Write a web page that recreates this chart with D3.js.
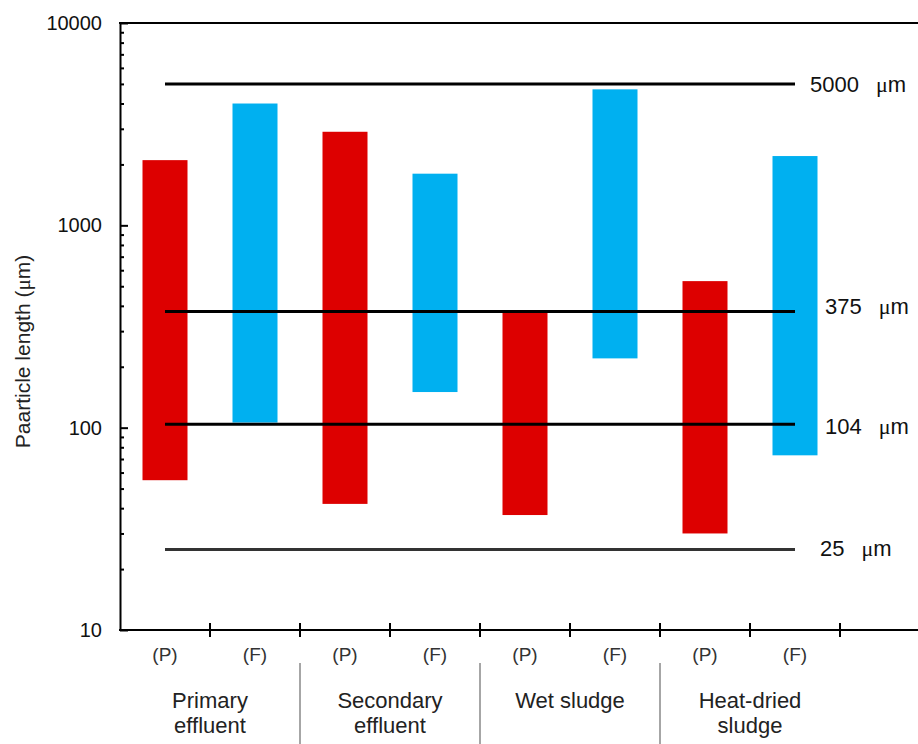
<!DOCTYPE html>
<html>
<head>
<meta charset="utf-8">
<script src="https://cdn.jsdelivr.net/npm/d3@7"></script>
<style>
  html, body { margin: 0; padding: 0; background: #fff; }
  svg { display: block; font-family: "Liberation Sans", Arial, sans-serif; }
</style>
</head>
<body>
<svg id="chart" width="918" height="744"></svg>
<script>
// Particle length ranges for each sample (P = particles, F = fibres)
const categories = ["PE-P", "PE-F", "SE-P", "SE-F", "WS-P", "WS-F", "HD-P", "HD-F"];
const sampleLabels = ["(P)", "(F)", "(P)", "(F)", "(P)", "(F)", "(P)", "(F)"];
const sampleType = ["P", "F", "P", "F", "P", "F", "P", "F"];
const minLength = [55, 106, 42, 150, 37, 220, 30, 73];
const maxLength = [2100, 4000, 2900, 1800, 375, 4700, 530, 2200];

const groupLines = [["Primary", "effluent"], ["Secondary", "effluent"], ["Wet sludge"], ["Heat-dried", "sludge"]];

// Reference sieve sizes
const refSizes = [5000, 375, 104, 25];
const refLabels = ["5000", "375", "104", "25"];

const yTicks = [10, 100, 1000, 10000];

// Layout
const plotLeft = 120, plotRight = 918, plotTop = 23, plotBottom = 630;
const bandEnd = 840;
const colors = { P: "#DD0000", F: "#00B0F0" };
const refColors = ["#000", "#000", "#000", "#333"];
const refLabelX = [810, 825, 825, 820];
const refLabelDy = [0, -5, 2, -1];

const svg = d3.select("#chart");

const y = d3.scaleLog().domain([10, 10000]).range([plotBottom, plotTop]);
const x = d3.scaleBand().domain(categories).range([plotLeft, bandEnd])
  .paddingInner(0.5).paddingOuter(0.25);
const step = x.step();

// Bars: floating ranges from min to max length
svg.append("g").selectAll("rect")
  .data(categories)
  .join("rect")
  .attr("x", d => x(d))
  .attr("width", x.bandwidth())
  .attr("y", (d, i) => y(maxLength[i]))
  .attr("height", (d, i) => y(minLength[i]) - y(maxLength[i]))
  .attr("fill", (d, i) => colors[sampleType[i]]);

// Reference lines
const cx0 = x(categories[0]) + x.bandwidth() / 2;
const cx1 = x(categories[categories.length - 1]) + x.bandwidth() / 2;
const refG = svg.append("g");
refG.selectAll("line")
  .data(refSizes)
  .join("line")
  .attr("x1", cx0).attr("x2", cx1)
  .attr("y1", d => y(d)).attr("y2", d => y(d))
  .attr("stroke", (d, i) => refColors[i])
  .attr("stroke-width", 3);

const refText = refG.selectAll("text")
  .data(refSizes)
  .join("text")
  .attr("x", (d, i) => refLabelX[i])
  .attr("y", (d, i) => y(d) + refLabelDy[i])
  .attr("dy", "0.35em")
  .attr("font-size", 22)
  .attr("fill", "#111");
refText.append("tspan").text((d, i) => refLabels[i]);
refText.append("tspan").attr("dx", 17).attr("font-family", "Liberation Serif").text("μ");
refText.append("tspan").text("m");

// Y axis (log), ticks pointing inward
const yMajor = d3.axisLeft(y).tickValues(yTicks).tickFormat(d3.format("d"))
  .tickSizeInner(-8).tickSizeOuter(0).tickPadding(18);
const gy = svg.append("g").attr("transform", `translate(${plotLeft},0)`).call(yMajor);
gy.select(".domain").attr("stroke", "#000").attr("stroke-width", 2);
gy.selectAll(".tick line").attr("stroke", "#000").attr("stroke-width", 2);
gy.selectAll(".tick text").attr("font-size", 20).attr("fill", "#111")
  .attr("font-family", "Liberation Sans, Arial, sans-serif");

const minorTicks = [];
for (let dec = 10; dec < 10000; dec *= 10) {
  for (let m = 2; m <= 9; m++) minorTicks.push(dec * m);
}
const yMinor = d3.axisLeft(y).tickValues(minorTicks).tickFormat("")
  .tickSizeInner(-4).tickSizeOuter(0);
const gym = svg.append("g").attr("transform", `translate(${plotLeft},0)`).call(yMinor);
gym.select(".domain").remove();
gym.selectAll(".tick line").attr("stroke", "#000").attr("stroke-width", 2);

// Top frame and x axis line
svg.append("line").attr("x1", plotLeft - 1).attr("x2", plotRight).attr("y1", plotTop).attr("y2", plotTop)
  .attr("stroke", "#000").attr("stroke-width", 2);
svg.append("line").attr("x1", plotLeft - 1).attr("x2", plotRight).attr("y1", plotBottom).attr("y2", plotBottom)
  .attr("stroke", "#000").attr("stroke-width", 2);

// X ticks at band boundaries, crossing the axis
const boundaries = categories.map((d, i) => plotLeft + (i + 1) * step);
svg.append("g").selectAll("line")
  .data(boundaries)
  .join("line")
  .attr("x1", d => d).attr("x2", d => d)
  .attr("y1", plotBottom - 7).attr("y2", plotBottom + 7)
  .attr("stroke", "#000").attr("stroke-width", 2);

// Sample labels
svg.append("g").selectAll("text")
  .data(categories)
  .join("text")
  .attr("x", d => x(d) + x.bandwidth() / 2)
  .attr("y", 661)
  .attr("text-anchor", "middle")
  .attr("font-size", 19)
  .attr("fill", "#333")
  .text((d, i) => sampleLabels[i]);

// Group separators
const separators = [1, 2, 3].map(k => plotLeft + k * 2 * step);
svg.append("g").selectAll("line")
  .data(separators)
  .join("line")
  .attr("x1", d => d).attr("x2", d => d)
  .attr("y1", 663).attr("y2", 744)
  .attr("stroke", "#888").attr("stroke-width", 1.5);

// Group labels
const gl = svg.append("g").selectAll("text")
  .data(groupLines)
  .join("text")
  .attr("x", (d, k) => plotLeft + k * 2 * step + step)
  .attr("y", 708)
  .attr("text-anchor", "middle")
  .attr("font-size", 22)
  .attr("fill", "#222");
gl.selectAll("tspan")
  .data(d => d)
  .join("tspan")
  .attr("x", function () { return this.parentNode.getAttribute("x"); })
  .attr("dy", (d, i) => i === 0 ? 0 : 25)
  .text(d => d);

// Y axis title
const yt = svg.append("text")
  .attr("transform", `translate(30,${(plotTop + plotBottom) / 2 + 25}) rotate(-90)`)
  .attr("text-anchor", "middle")
  .attr("font-size", 21)
  .attr("fill", "#222");
yt.append("tspan").text("Paarticle length (");
yt.append("tspan").attr("font-family", "Liberation Serif").text("μ");
yt.append("tspan").text("m)");
</script>
</body>
</html>
